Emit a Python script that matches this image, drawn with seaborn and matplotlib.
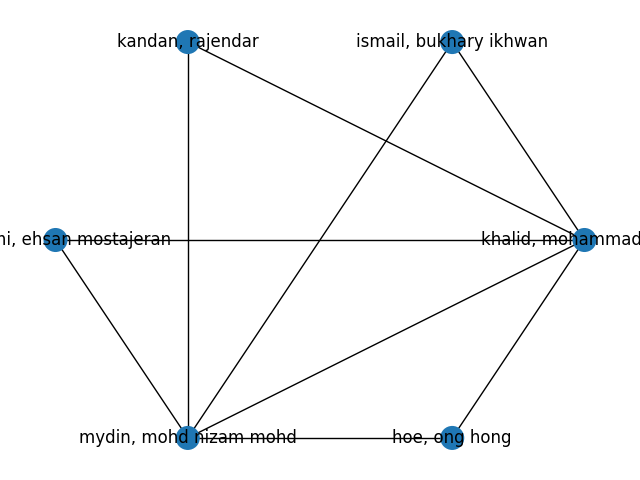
import numpy as np
import pandas as pd
import seaborn as sns
import matplotlib.pyplot as plt

names = ["khalid, mohammad nazri", "ismail, bukhary ikhwan", "kandan, rajendar",
         "hashemi, ehsan mostajeran", "mydin, mohd nizam mohd", "hoe, ong hong"]
edges = [(2, 4), (2, 0), (1, 4), (1, 0), (3, 0), (3, 4), (4, 0), (4, 5), (5, 0)]

ang = np.arange(len(names)) * 2 * np.pi / len(names)
nodes = pd.DataFrame({"name": names, "x": np.cos(ang), "y": np.sin(ang)})

fig = plt.figure(figsize=(6.4, 4.8), dpi=100)
ax = fig.add_axes((0, 0, 1, 1))
for a, b in edges:
    ax.plot(nodes.x[[a, b]], nodes.y[[a, b]], color="black", lw=1, zorder=1)
sns.scatterplot(data=nodes, x="x", y="y", s=300, color="#1f77b4", edgecolor="none", ax=ax, zorder=2)
for _, r in nodes.iterrows():
    ax.text(r.x, r.y, r["name"], ha="center", va="center", fontsize=12, zorder=3)
ax.set_xlim(-1.21, 1.21)
ax.set_ylim(-1.05, 1.05)
ax.set_axis_off()
fig.savefig("out.png")
